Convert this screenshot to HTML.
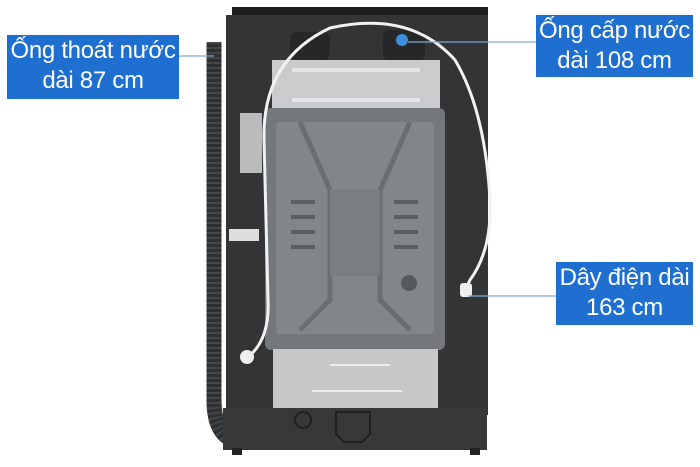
<!DOCTYPE html>
<html><head><meta charset="utf-8"><style>
html,body{margin:0;padding:0;background:#fff;}
.w{position:relative;width:700px;height:467px;overflow:hidden;background:#fff;font-family:"Liberation Sans",sans-serif;}
.lb{position:absolute;background:#1f6fd1;color:#fff;text-align:center;font-size:24px;line-height:30px;box-sizing:border-box;padding-top:1px;letter-spacing:-0.3px;white-space:nowrap;}
</style></head><body><div class="w">
<svg width="700" height="467" style="position:absolute;left:0;top:0">
<path d="M214 42 L214 400 Q214 432 232 440" stroke="#2d2f31" stroke-width="15" fill="none"/>
<path d="M214 42 L214 400 Q214 432 232 440" stroke="#44474a" stroke-width="15" fill="none" stroke-dasharray="2 3"/>
<rect x="232" y="7" width="256" height="10" fill="#1c1d1f"/>
<rect x="226" y="15" width="262" height="400" fill="#333436"/>
<rect x="223" y="408" width="264" height="42" fill="#37383a"/>
<rect x="232" y="448" width="10" height="7" fill="#222"/>
<rect x="470" y="448" width="10" height="7" fill="#222"/>
<rect x="290" y="32" width="40" height="28" rx="6" fill="#262729"/>
<rect x="383" y="30" width="42" height="30" rx="6" fill="#262729"/>
<circle cx="402" cy="40" r="6" fill="#3d8fe0"/>
<rect x="272" y="60" width="168" height="50" fill="#c9cbcd"/>
<rect x="292" y="68" width="128" height="4" fill="#e4e5e6"/>
<rect x="292" y="98" width="128" height="4" fill="#e4e5e6"/>
<rect x="265" y="108" width="180" height="242" rx="6" fill="#74787d"/>
<rect x="276" y="122" width="158" height="212" rx="4" fill="#82868b"/>
<path d="M300 122 L330 190 L330 300 L300 330 M410 122 L380 190 L380 300 L410 330" stroke="#6a6e73" stroke-width="5" fill="none"/>
<rect x="330" y="190" width="50" height="86" fill="#7a7e83"/>
<g fill="#5a5e63"><rect x="291" y="200" width="24" height="4"/><rect x="291" y="215" width="24" height="4"/><rect x="291" y="230" width="24" height="4"/><rect x="291" y="245" width="24" height="4"/><rect x="394" y="200" width="24" height="4"/><rect x="394" y="215" width="24" height="4"/><rect x="394" y="230" width="24" height="4"/><rect x="394" y="245" width="24" height="4"/></g>
<circle cx="409" cy="283" r="8" fill="#55595e"/>
<rect x="273" y="349" width="165" height="59" fill="#c5c7c9"/>
<rect x="330" y="364" width="60" height="2" fill="#eee"/>
<rect x="312" y="390" width="90" height="2" fill="#eee"/>
<circle cx="303" cy="420" r="8" fill="none" stroke="#1f2022" stroke-width="2"/>
<path d="M336 412 h34 v22 l-8 8 h-18 l-8 -8 z" fill="none" stroke="#1f2022" stroke-width="2"/>
<rect x="240" y="113" width="22" height="60" fill="#b9bbbd"/>
<rect x="229" y="229" width="30" height="12" fill="#ddd"/>
<path d="M247 358 Q270 340 268 300 L264 140 Q262 60 330 28 Q410 10 455 60 Q485 110 490 200 Q492 250 470 280 L465 290" stroke="#f2f2f2" stroke-width="3" fill="none"/>
<circle cx="247" cy="357" r="7" fill="#eee"/>
<rect x="460" y="283" width="12" height="14" rx="3" fill="#eee"/>
<line x1="179" y1="56" x2="214" y2="56" stroke="#7fa9d6" stroke-width="1.2"/>
<line x1="408" y1="42" x2="536" y2="42" stroke="#7fa9d6" stroke-width="1.2"/>
<line x1="468" y1="296" x2="556" y2="296" stroke="#7fa9d6" stroke-width="1.2"/>
</svg>
<div class="lb" style="left:7px;top:35px;width:172px;height:64px;">Ống thoát nước<br>dài 87 cm</div>
<div class="lb" style="left:536px;top:15px;width:157px;height:62px;">Ống cấp nước<br>dài 108 cm</div>
<div class="lb" style="left:556px;top:262px;width:137px;height:63px;">Dây điện dài<br>163 cm</div>
</div></body></html>
